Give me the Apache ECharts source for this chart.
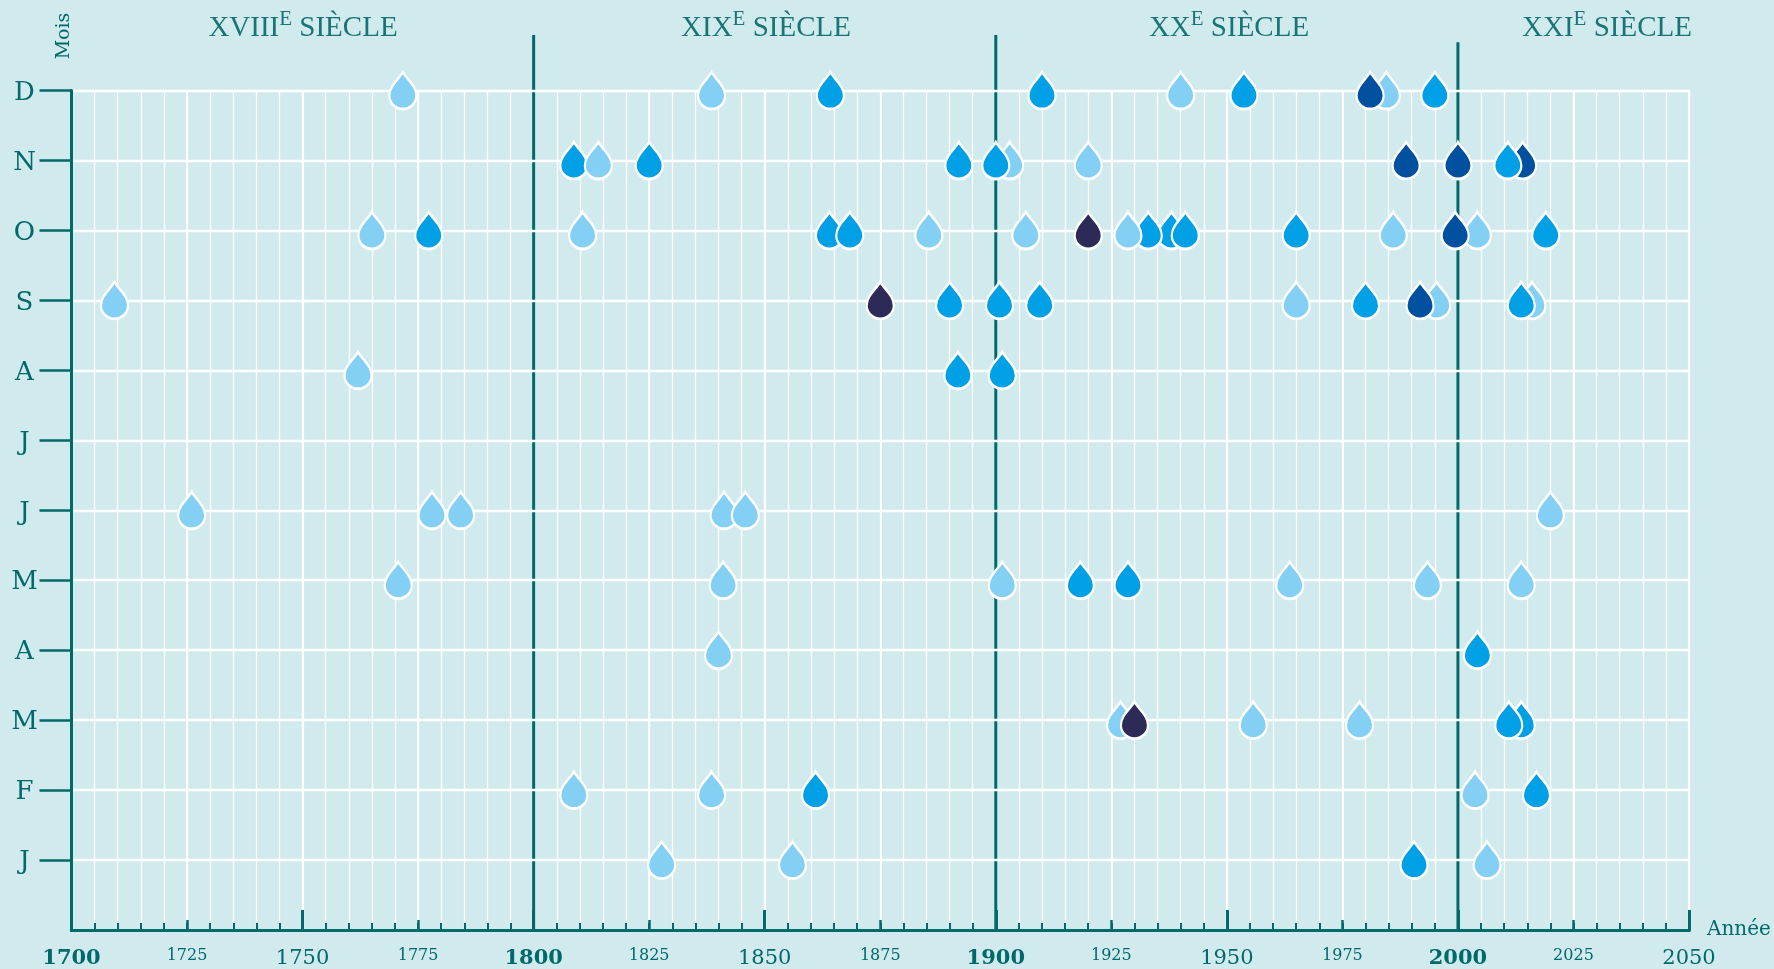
<!DOCTYPE html>
<html><head><meta charset="utf-8">
<style>html,body{margin:0;padding:0;background:#d1eaee}#c{width:1774px;height:969px}</style>
<script src="https://cdn.jsdelivr.net/npm/echarts@6/dist/echarts.min.js"></script>
</head><body><div id="c"></div>
<script>
const monthLabels = ['', 'J','F','M','A','M','J','J','A','S','O','N','D'];
const centuries = ['XVIII','XIX','XX','XXI'];
const centuryLineYears = [1800,1900,2000];
const centuryLineTops = [1,1,0.992];
const levelColors = ['#84d0f5','#00a0e6','#0050a0','#2c2a57'];
// 12=D ... 1=J ; draw order matters
const dropYears = [
 1771.7,1838.5,1864.2,1910,1940,1953.7,1984.5,1981,1995,
 1808.7,1814,1825,1892,1903,1900,1920,1988.8,2000,2014,2010.8,
 1765,1777.3,1810.6,1864,1868.4,1885.5,1906.5,1920,1938,1933,1928.6,1941,1965,1986,2004.2,1999.4,2019,
 1709.3,1875,1890,1900.8,1909.5,1965,1980,1995.4,1991.8,2016,2013.7,
 1762,1891.8,1901.4,
 1726,1778,1784.2,1841.2,1845.8,2020,
 1770.7,1841,1901.4,1918.3,1928.6,1963.6,1993.4,2013.7,
 1840,2004.2,
 1927,1930,1955.7,1978.7,2013.7,2011,
 1808.7,1838.5,1861,2003.7,2017,
 1827.7,1856,1990.5,2006.3
];
const dropMonths = [
 12,12,12,12,12,12,12,12,12,
 11,11,11,11,11,11,11,11,11,11,11,
 10,10,10,10,10,10,10,10,10,10,10,10,10,10,10,10,10,
 9,9,9,9,9,9,9,9,9,9,9,
 8,8,8,
 6,6,6,6,6,6,
 5,5,5,5,5,5,5,5,
 4,4,
 3,3,3,3,3,3,
 2,2,2,2,2,
 1,1,1,1
];
const dropLevels = [
 0,0,1,1,0,1,0,2,1,
 1,0,1,1,0,1,0,2,2,2,1,
 0,1,0,1,1,0,0,3,1,1,0,1,1,0,0,2,1,
 0,3,1,1,1,0,1,0,2,0,1,
 0,1,1,
 0,0,0,0,0,0,
 0,0,0,1,1,0,0,0,
 0,1,
 0,3,0,0,1,1,
 0,0,1,0,1,
 0,0,1,0
];
const teal = '#00696b';
const dropPath = 'path://M12 0C15 6 24 12 24 21A12 12 0 0 1 0 21C0 12 9 6 12 0Z';
const serif = '"DejaVu Serif"';
const headSerif = '"Liberation Serif"';
const headerX = [298,761,1224,1602];

function xAxisBase(interval, tickLen, tickW, splitW, extra){
  return Object.assign({
    type:'value', gridIndex:0, position:'bottom', min:1700, max:2050, interval,
    z:0, axisLine:{show:true,onZero:false,lineStyle:{color:teal,width:3}},
    axisTick:{show:true,inside:true,length:tickLen,lineStyle:{color:teal,width:tickW}},
    splitLine:{show:true,lineStyle:{color:'#ffffff',width:splitW}},
    axisLabel:{show:false}
  },extra||{});
}
const chart = echarts.init(document.getElementById('c'),null,{renderer:'canvas'});
const series = [{
  type:'scatter', xAxisIndex:0, yAxisIndex:0, z:5, symbol:dropPath, symbolSize:[27,37],
  silent:true,
  data: dropYears.map((y,i)=>({value:[y,dropMonths[i]],
    itemStyle:{color:levelColors[dropLevels[i]],borderColor:'#fff',borderWidth:2.5,opacity:1}}))
}];
centuryLineYears.forEach((y,i)=>series.push({
  type:'line', xAxisIndex:3, yAxisIndex:1, z:1, symbol:'none', silent:true,
  lineStyle:{color:teal,width:3}, data:[[y,0],[y,centuryLineTops[i]]]
}));
chart.setOption({
  animation:false, backgroundColor:'#d1eaee',
  title: centuries.map((c,i)=>({
    left:headerX[i], top:4, textAlign:'center', text:`{n|${c}}{e|E}{n| SIÈCLE}`,
    textStyle:{fontWeight:'normal',rich:{
      n:{fontFamily:headSerif,fontWeight:'normal',fontSize:29,color:'#197575',verticalAlign:'bottom',lineHeight:34},
      e:{fontFamily:headSerif,fontWeight:'normal',fontSize:21,color:'#197575',verticalAlign:'top',lineHeight:34}
    }}
  })),
  graphic:[{type:'text',x:64.5,y:36,rotation:Math.PI/2,silent:true,
    style:{text:'Mois',fontFamily:serif,fontSize:19,fill:teal,align:'center',verticalAlign:'middle'}}],
  grid:[
    {left:71.5,right:85,top:90.5,bottom:39},
    {left:71.5,right:85,top:35,bottom:39}
  ],
  xAxis:[
    xAxisBase(5,7,2,1.3),
    xAxisBase(25,10,2.5,1.8,{
      name:'Année', nameLocation:'end', nameGap:18,
      nameTextStyle:{fontFamily:serif,fontSize:20,color:teal,verticalAlign:'middle',padding:[0,0,8,0]},
      axisLabel:{show:true,margin:18,hideOverlap:false,showMinLabel:true,showMaxLabel:true,
        formatter:v=> v%100===0?`{b|${v}}`:(v%50===0?`{m|${v}}`:`{s|${v}}`),
        rich:{
          b:{fontFamily:serif,fontWeight:'bold',fontSize:21,color:teal},
          m:{fontFamily:serif,fontSize:21,color:teal},
          s:{fontFamily:serif,fontSize:16,color:teal}
        }}
    }),
    xAxisBase(50,20,3,2.2),
    {type:'value',gridIndex:1,show:false,min:1700,max:2050}
  ],
  yAxis:[
    {type:'category',gridIndex:0,data:monthLabels,boundaryGap:false,z:2,
     axisLine:{show:true,onZero:false,lineStyle:{color:teal,width:3}},
     axisTick:{show:true,length:32,alignWithLabel:true,interval:(i,v)=>v!=='',lineStyle:{color:teal,width:2.5}},
     splitLine:{show:true,interval:(i,v)=>v!=='',lineStyle:{color:'#ffffff',width:2.4}},
     axisLabel:{show:true,interval:0,margin:47,align:'center',
       formatter:v=>v===''?'':`{m|${v}}`,
       rich:{m:{fontFamily:serif,fontSize:26,color:teal,padding:[5,0,0,0]}}}
    },
    {type:'value',gridIndex:1,show:false,min:0,max:1}
  ],
  series
});
</script></body></html>
